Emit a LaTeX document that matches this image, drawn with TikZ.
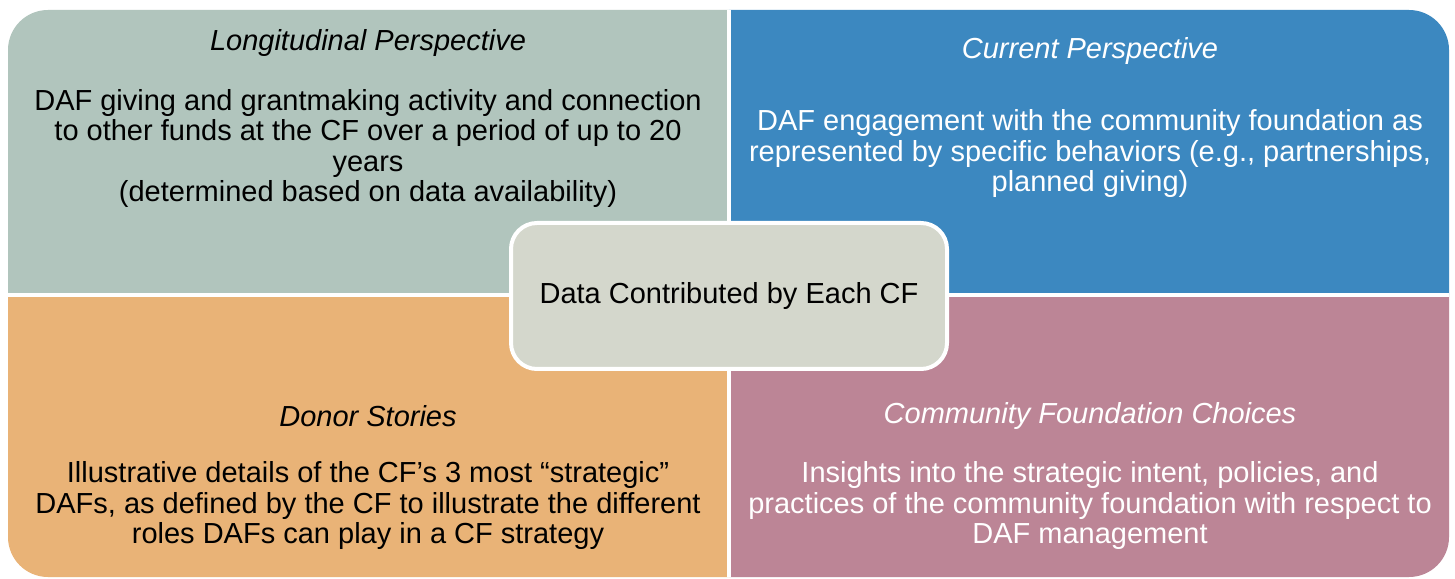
\documentclass[tikz,border=0pt]{standalone}
\usepackage{fontspec}
\setmainfont{Liberation Sans}
\definecolor{qtl}{HTML}{B1C5BD}
\definecolor{qtr}{HTML}{3C88C0}
\definecolor{qbl}{HTML}{E9B377}
\definecolor{qbr}{HTML}{BC8596}
\definecolor{qc}{HTML}{D4D7CC}
\tikzset{
  qtext/.style={align=center, font=\fontsize{29}{30.5}\selectfont, inner sep=0pt},
  qtitle/.style={font=\fontsize{29}{30.5}\selectfont\itshape, inner sep=0pt},
  centerbox/.style={draw=white, line width=4pt, fill=qc, rounded corners=26pt,
    minimum width=436pt, minimum height=146pt, font=\fontsize{29}{30.5}\selectfont}
}
\begin{document}
\begin{tikzpicture}[x=1pt,y=1pt]
\useasboundingbox (0,0) rectangle (1455,578);
\fill[white] (0,0) rectangle (1455,578);
\begin{scope}
\clip[rounded corners=40pt] (8,1) rectangle (1449,568);
\fill[qtl] (0,283) rectangle (729,578);
\fill[qtr] (729,283) rectangle (1455,578);
\fill[qbl] (0,0) rectangle (729,283);
\fill[qbr] (729,0) rectangle (1455,283);
\draw[white, line width=4.5pt] (729,0) -- (729,578);
\draw[white, line width=4.5pt] (0,283) -- (1455,283);
\end{scope}
% top left
\node[qtitle] (tlt) at (368,535) {Longitudinal Perspective};
\node[qtext] (tlb) at (368,429.5) {DAF giving and grantmaking activity and connection\\to other funds at the CF over a period of up to 20\\years\\(determined based on data availability)};
% top right
\node[qtitle, text=white] (trt) at (1090,527) {Current Perspective};
\node[qtext, text=white] (trb) at (1090,424) {DAF engagement with the community foundation as\\represented by specific behaviors (e.g., partnerships,\\planned giving)};
% bottom left
\node[qtitle] (blt) at (368,162) {Donor Stories};
\node[qtext] (blb) at (368,72) {Illustrative details of the CF’s 3 most “strategic”\\DAFs, as defined by the CF to illustrate the different\\roles DAFs can play in a CF strategy};
% bottom right
\node[qtitle, text=white] (brt) at (1090,162) {Community Foundation Choices};
\node[qtext, text=white] (brb) at (1090,72) {Insights into the strategic intent, policies, and\\practices of the community foundation with respect to\\DAF management};
% center
\node[centerbox] (center) at (729,282) {\raisebox{-2pt}{Data Contributed by Each CF}};
\end{tikzpicture}
\end{document}
